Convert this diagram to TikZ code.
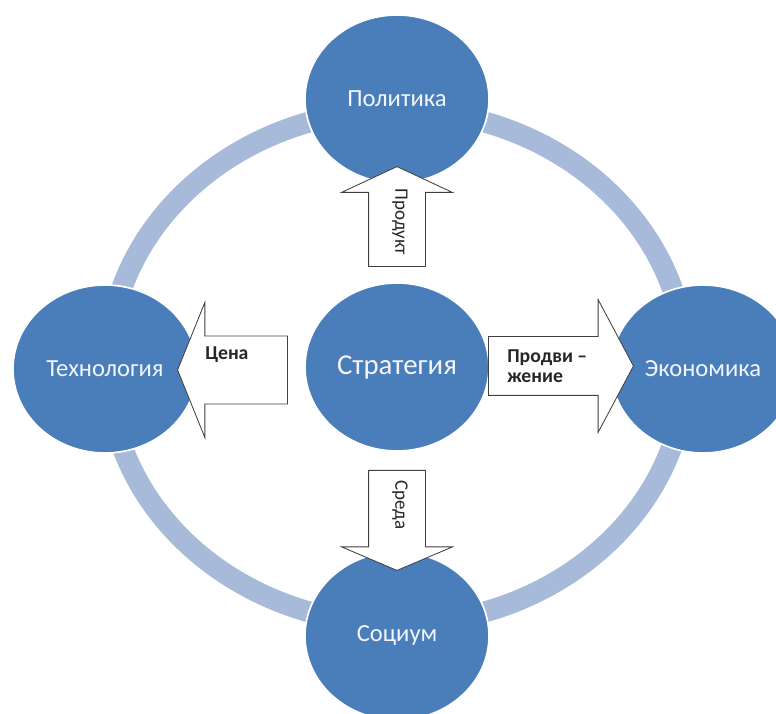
\documentclass[tikz,border=0pt]{standalone}
\usepackage{fontspec}
\setmainfont{Carlito}
\usetikzlibrary{shapes.geometric,shapes.arrows}
\definecolor{kreis}{RGB}{74,126,187}
\definecolor{ring}{RGB}{167,186,218}
\definecolor{rand}{RGB}{64,64,64}

\begin{document}
\begin{tikzpicture}[
                sphere/.style={ellipse, fill=kreis, draw=white, line width=1.2pt,
                    minimum width=4.6cm, minimum height=4.2cm, inner sep=0pt,
                    text=white!93!kreis, font=\fontsize{17.5}{20}\selectfont},
                pfeil/.style={single arrow, draw=rand, fill=white, line width=0.6pt,
                    inner xsep=0pt, anchor=tail, single arrow tip angle=130},
                wort/.style={inner sep=0pt, text=black!85, font=\fontsize{13.5}{14.2}\selectfont},
                wort fett/.style={wort, font=\bfseries\fontsize{14}{14.4}\selectfont}]
                \useasboundingbox (-9.925,-8.675) rectangle (9.475,9.175);
                \draw[ring, line width=0.525cm] (0,0) ellipse (7.225cm and 6.425cm);

                \node[sphere] (pol) at (0,6.7) {Политика};
                \node[sphere] (tech) at (-7.3,-0.05) {Технология};
                \node[sphere] (econ) at (7.65,-0.05) {Экономика};
                \node[sphere] (soc) at (0,-6.725) {Социум};
                \node[sphere, font=\fontsize{20.5}{24}\selectfont] (strat) at (0,0) {Стратегия};

                \node[pfeil, rotate=90, minimum height=2.5cm, inner ysep=0.7cm,
                    single arrow head extend=0.675cm] (prod) at (0,2.5) {};
                \node[pfeil, rotate=180, minimum height=2.75cm, inner ysep=0.84cm,
                    single arrow head extend=0.84cm, single arrow tip angle=136] (price) at (-2.725,-0.075) {};
                \node[pfeil, minimum height=3.625cm, inner ysep=0.725cm,
                    single arrow head extend=0.925cm, single arrow tip angle=124] (promo) at (2.275,0.025) {};
                \node[pfeil, rotate=-90, minimum height=2.5cm, inner ysep=0.7cm,
                    single arrow head extend=0.675cm, single arrow tip angle=134] (env) at (0,-2.575) {};

                \node[wort, rotate=-90] (prodtxt) at (0.075,3.625) {Продукт};
                \node[wort, rotate=-90] (envtxt) at (0.075,-3.45) {Среда};
                \node[wort fett, anchor=base west] (pricetxt) at (-4.8,0.175) {Цена};
                \node[wort fett, anchor=north west, align=left] (promotxt) at (2.75,0.45) {Продви –\\жение};
            \end{tikzpicture}
\end{document}
